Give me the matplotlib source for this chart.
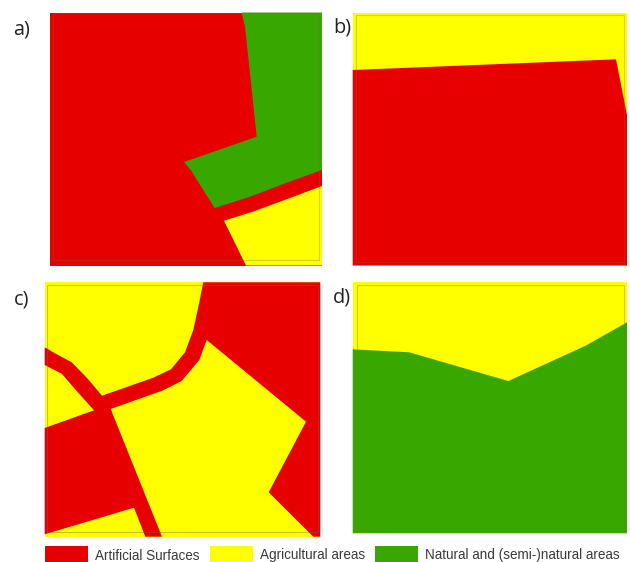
import matplotlib
matplotlib.use("Agg")
import matplotlib.pyplot as plt
from matplotlib.patches import Polygon, Rectangle

RED = "#e60000"
YELLOW = "#ffff00"
GREEN = "#38a800"
FRAME = "#6e6e50"

# map outlines in image pixels
panel_a_extent = (49.5, 12.5, 322, 265.5)
panel_a_frame = (52.7, 12.5, 319.3, 260)
panel_a_green = [(241.7, 12.5), (245, 26.7), (256.7, 136.7), (184, 162), (190.7, 170),
                 (214.7, 208), (250, 196.7), (286.7, 182.7), (322, 170), (322, 12.5)]
panel_a_yellow = [(224, 220.7), (253, 211.7), (290, 198), (322, 186), (322, 265.5), (246, 265.5)]

panel_b_extent = (352.7, 12.5, 627, 265.5)
panel_b_frame = (356, 15, 624, 262)
panel_b_red = [(352.7, 70), (616, 59.3), (627, 115), (627, 265.5), (352.7, 265.5)]

panel_c_extent = (44.7, 282.3, 320.3, 536.7)
panel_c_frame = (47.3, 285, 317.5, 532.3)
panel_c_red = [(203.3, 282.3), (198.7, 305), (193.3, 330), (185, 352.3), (171, 369.3),
               (153.3, 377.7), (102, 395.7), (87.3, 378.3), (71.7, 362.3), (55, 353.3),
               (44.7, 347.3), (44.7, 365), (61.7, 373.7), (77.3, 391.7), (94, 410.3),
               (44.7, 428), (44.7, 534.3), (134, 507.7), (145.3, 536.7), (162, 536.7),
               (110.7, 409), (162.3, 390.7), (181.7, 381), (199.3, 360), (206.7, 340),
               (306, 421.7), (268.7, 492.3), (313.3, 536.7), (320.3, 536.7), (320.3, 282.3)]

panel_d_extent = (352.7, 282.3, 627, 533.3)
panel_d_frame = (356.7, 284.5, 623.5, 531)
panel_d_green = [(352.7, 349.3), (409.3, 352.3), (508.3, 381), (585, 346), (627, 322.3),
                 (627, 533.3), (352.7, 533.3)]

panel_labels = ["a)", "b)", "c)", "d)"]
panel_label_x = [13, 333, 14, 333]
panel_label_y = [29, 27, 300, 297]

legend_labels = ["Artificial Surfaces", "Agricultural areas", "Natural and (semi-)natural areas"]
legend_colors = [RED, YELLOW, GREEN]
legend_box_x = [45, 210, 374.5]
legend_text_x = [95, 259.5, 425]

fig = plt.figure(figsize=(6.3, 5.62), dpi=100)
ax = fig.add_axes([0, 0, 1, 1])
ax.set_xlim(0, 630)
ax.set_ylim(562, 0)
ax.axis("off")


def draw_panel(extent, base, shapes, frame, frame_alpha):
    x0, y0, x1, y1 = extent
    fx0, fy0, fx1, fy1 = frame
    ax.add_patch(Rectangle((x0, y0), x1 - x0, y1 - y0, fc=base, ec="none", zorder=1))
    for pts, col in shapes:
        ax.add_patch(Polygon(pts, closed=True, fc=col, ec="none", zorder=2))
    # the faint inner neatline mostly disappears over the filled areas
    ax.add_patch(Rectangle((fx0, fy0), fx1 - fx0, fy1 - fy0, fc="none", ec=FRAME,
                           lw=0.8, alpha=frame_alpha, zorder=3))


draw_panel(panel_a_extent, RED, [(panel_a_green, GREEN), (panel_a_yellow, YELLOW)], panel_a_frame, 0.3)
draw_panel(panel_b_extent, YELLOW, [(panel_b_red, RED)], panel_b_frame, 0.3)
draw_panel(panel_c_extent, YELLOW, [(panel_c_red, RED)], panel_c_frame, 0.4)
draw_panel(panel_d_extent, YELLOW, [(panel_d_green, GREEN)], panel_d_frame, 0.35)

for lab, x, y in zip(panel_labels, panel_label_x, panel_label_y):
    ax.text(x, y, lab, fontsize=14.3, family="Open Sans", color="#222222", va="center")

for col, lab, bx, tx in zip(legend_colors, legend_labels, legend_box_x, legend_text_x):
    ax.add_patch(Rectangle((bx, 546), 43, 16, fc=col, ec="none"))
    ax.text(tx, 555.5, lab, fontsize=9.75, family="Liberation Sans", color="#3a3a3a", va="center")

fig.savefig("out.png", dpi=100)
